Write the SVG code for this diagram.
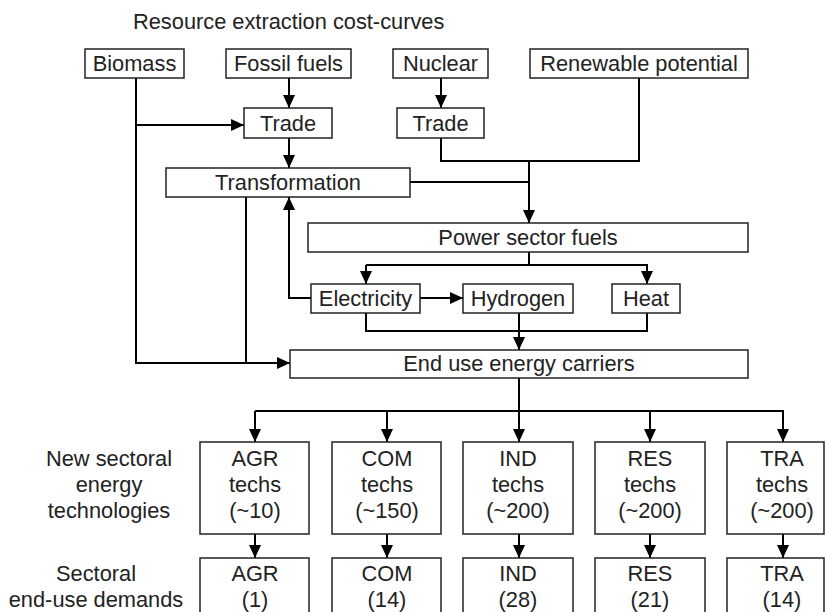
<svg xmlns="http://www.w3.org/2000/svg" width="825" height="612" viewBox="0 0 825 612">
<defs>
<marker id="ah" markerUnits="userSpaceOnUse" markerWidth="14" markerHeight="13" refX="13" refY="6" orient="auto">
<path d="M0,0 L13,6 L0,12 z" fill="#000"/>
</marker>
<style>
.box{fill:#fff;stroke:#222;stroke-width:1.5}
.t{font-family:"Liberation Sans",Arial,sans-serif;font-size:21.8px;fill:#222;text-anchor:middle}
.c{fill:none;stroke:#000;stroke-width:2}
.a{fill:none;stroke:#000;stroke-width:2;marker-end:url(#ah)}
</style>
</defs>
<rect width="825" height="612" fill="#fff"/>
<text class="t" x="133" y="29" style="text-anchor:start">Resource extraction cost-curves</text>

<g id="connectors">
<path class="a" d="M289,78 V108"/>
<path class="a" d="M136,125 H244"/>
<path class="a" d="M136,78 V363 H290"/>
<path class="c" d="M246,197 V363"/>
<path class="a" d="M289,138 V168"/>
<path class="a" d="M441,78 V108"/>
<path class="c" d="M441,138 V161 H639 V78"/>
<path class="a" d="M529,161 V223"/>
<path class="c" d="M410,182 H529"/>
<path class="c" d="M529,252 V265"/>
<path class="a" d="M366,265 V284"/>
<path class="a" d="M366,265 H647 V284"/>
<path class="a" d="M420,298 H463"/>
<path class="a" d="M311,298 H289 V197"/>
<path class="c" d="M366,313 V331 H647 V313"/>
<path class="a" d="M519,313 V350"/>
<path class="c" d="M519,378 V411"/>
<path class="a" d="M255,411 V442"/>
<path class="a" d="M255,411 H783 V442"/>
<path class="a" d="M387,411 V442"/>
<path class="a" d="M519,411 V442"/>
<path class="a" d="M650,411 V442"/>
<path class="a" d="M255,534 V558"/>
<path class="a" d="M387,534 V558"/>
<path class="a" d="M519,534 V558"/>
<path class="a" d="M650,534 V558"/>
<path class="a" d="M783,534 V558"/>
</g>

<g id="biomass"><rect class="box" x="85" y="49" width="99" height="29"/><text class="t" x="134.5" y="71">Biomass</text></g>
<g id="fossil"><rect class="box" x="226" y="49" width="125" height="29"/><text class="t" x="288.5" y="71">Fossil fuels</text></g>
<g id="nuclear"><rect class="box" x="393" y="49" width="95" height="29"/><text class="t" x="440.5" y="71">Nuclear</text></g>
<g id="renewable"><rect class="box" x="530" y="49" width="218" height="29"/><text class="t" x="639" y="71">Renewable potential</text></g>
<g id="trade1"><rect class="box" x="244" y="108" width="88" height="30"/><text class="t" x="288" y="131">Trade</text></g>
<g id="trade2"><rect class="box" x="397" y="108" width="87" height="30"/><text class="t" x="440.5" y="131">Trade</text></g>
<g id="transformation"><rect class="box" x="166" y="168" width="244" height="29"/><text class="t" x="288" y="190">Transformation</text></g>
<g id="power"><rect class="box" x="308" y="223" width="440" height="29"/><text class="t" x="528" y="245">Power sector fuels</text></g>
<g id="electricity"><rect class="box" x="311" y="284" width="109" height="29"/><text class="t" x="365.5" y="306">Electricity</text></g>
<g id="hydrogen"><rect class="box" x="463" y="284" width="110" height="29"/><text class="t" x="518" y="306">Hydrogen</text></g>
<g id="heat"><rect class="box" x="612" y="284" width="68" height="29"/><text class="t" x="646" y="306">Heat</text></g>
<g id="enduse"><rect class="box" x="290" y="350" width="458" height="28"/><text class="t" x="519" y="371">End use energy carriers</text></g>

<g id="label-tech"><text class="t" x="109" y="466">New sectoral</text><text class="t" x="109" y="492">energy</text><text class="t" x="109" y="518">technologies</text></g>
<g id="label-demand"><text class="t" x="96" y="581">Sectoral</text><text class="t" x="96" y="607">end-use demands</text></g>

<g id="agr-techs"><rect class="box" x="200" y="442" width="109" height="92"/><text class="t" x="255" y="466">AGR</text><text class="t" x="255" y="492">techs</text><text class="t" x="255" y="518">(~10)</text></g>
<g id="com-techs"><rect class="box" x="332" y="442" width="109" height="92"/><text class="t" x="387" y="466">COM</text><text class="t" x="387" y="492">techs</text><text class="t" x="387" y="518">(~150)</text></g>
<g id="ind-techs"><rect class="box" x="463" y="442" width="110" height="92"/><text class="t" x="518" y="466">IND</text><text class="t" x="518" y="492">techs</text><text class="t" x="518" y="518">(~200)</text></g>
<g id="res-techs"><rect class="box" x="595" y="442" width="110" height="92"/><text class="t" x="650" y="466">RES</text><text class="t" x="650" y="492">techs</text><text class="t" x="650" y="518">(~200)</text></g>
<g id="tra-techs"><rect class="box" x="727" y="442" width="97" height="92"/><text class="t" x="782" y="466">TRA</text><text class="t" x="782" y="492">techs</text><text class="t" x="782" y="518">(~200)</text></g>

<g id="agr-dem"><rect class="box" x="200" y="558" width="109" height="62"/><text class="t" x="255" y="581">AGR</text><text class="t" x="255" y="607">(1)</text></g>
<g id="com-dem"><rect class="box" x="332" y="558" width="109" height="62"/><text class="t" x="387" y="581">COM</text><text class="t" x="387" y="607">(14)</text></g>
<g id="ind-dem"><rect class="box" x="463" y="558" width="110" height="62"/><text class="t" x="518" y="581">IND</text><text class="t" x="518" y="607">(28)</text></g>
<g id="res-dem"><rect class="box" x="595" y="558" width="110" height="62"/><text class="t" x="650" y="581">RES</text><text class="t" x="650" y="607">(21)</text></g>
<g id="tra-dem"><rect class="box" x="727" y="558" width="97" height="62"/><text class="t" x="782" y="581">TRA</text><text class="t" x="782" y="607">(14)</text></g>
</svg>
